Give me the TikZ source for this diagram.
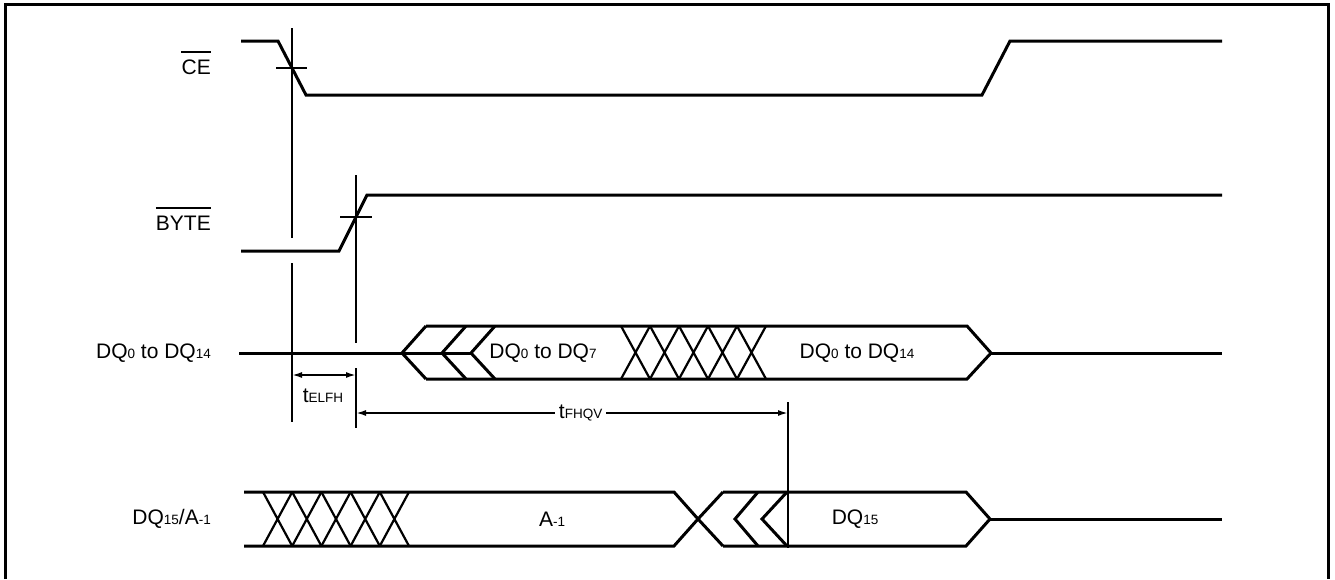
\documentclass[tikz,border=0pt]{standalone}
\usepackage{fontspec}
\setmainfont{Liberation Sans}
\usetikzlibrary{positioning, arrows.meta}
\tikzset{ sig/.style={line width=3pt, line join=miter},
          guide/.style={line width=1.8pt},
          xline/.style={line width=2.2pt},
          lbl/.style={inner sep=0pt, font=\fontsize{21}{22}\selectfont},
          dimarrow/.style={line width=1.8pt,
            {Latex[length=10pt,width=6pt]}-{Latex[length=10pt,width=6pt]}}}
\newcommand{\sm}[1]{{\fontsize{13.5}{14}\selectfont #1}}
\newcommand{\barlbl}[1]{\draw[line width=1.5pt]
  ([yshift=7.5pt]#1.north west) -- ([yshift=7.5pt]#1.north east);}

\begin{document}
\begin{tikzpicture}[x=1pt,y=-1pt]
\useasboundingbox (0,0) rectangle (1335,579);
\draw[line width=3pt] (5,579) -- (5,4) -- (1328,4) -- (1328,579);

% signal names
\node[lbl, anchor=east] (ce) at (211,67) {CE};
\barlbl{ce}
\node[lbl, anchor=east] (byte) at (211,223) {BYTE};
\barlbl{byte}
\node[lbl, anchor=east] (dqlo) at (211,353) {DQ\sm{0} to DQ\sm{14}};
\node[lbl, anchor=east] (dqhi) at (211,519) {DQ\sm{15}/A\sm{-1}};

% CE and BYTE
\draw[sig] (241,41) -- (278,41) -- (306,95) -- (982,95) -- (1010,41) -- (1222,41);
\draw[sig] (241,251) -- (339,251) -- (367,195) -- (1222,195);

% reference lines
\coordinate (e1) at (292,375);
\coordinate (f1) at (356,375);
\coordinate (f2) at (356,413);
\coordinate (v2) at (788,413);
\draw[guide] (292,28) -- (292,238) (292,263) -- (292,422);
\draw[guide] (356,175) -- (356,343) (356,368) -- (356,428);
\draw[guide] (788,402) -- (788,548);
\draw[guide] (276,68) -- (307,68);
\draw[guide] (340,217) -- (372,217);

% DQ0 to DQ14
\draw[sig] (239,353) -- (471,353);
\foreach \v in {402,442,471} %chevrons
  \draw[sig] (\v+24,326) -- (\v,353) -- (\v+24,379);
\draw[sig] (426,326) -- (967,326) -- (991,353) -- (967,379) -- (426,379);
\draw[sig] (991,353) -- (1222,353);
\foreach \i in {0,...,4} %crossings
  \draw[xline] (621+29*\i,326) -- (650+29*\i,379)
               (621+29*\i,379) -- (650+29*\i,326);
\node[lbl] (lo7) at (543,353) {DQ\sm{0} to DQ\sm{7}};
\node[lbl] (lo14) at (857,353) {DQ\sm{0} to DQ\sm{14}};

% DQ15/A-1
\draw[sig] (244,492) -- (674,492) -- (698,519) -- (674,546) -- (244,546);
\foreach \i in {0,...,4} %crossings
  \draw[xline] (263+29.2*\i,492) -- (292.2+29.2*\i,546)
               (263+29.2*\i,546) -- (292.2+29.2*\i,492);
\draw[sig] (723,492) -- (698,519) -- (723,546);
\draw[sig] (723,492) -- (966,492) -- (990,519) -- (966,546) -- (723,546);
\draw[sig] (990,519) -- (1222,519);
\foreach \v/\w in {735/758,762/787} %chevrons
  \draw[sig] (\w,492) -- (\v,519) -- (\w,546);
\node[lbl] (am1) at (552,519) {A\sm{-1}};
\node[lbl] (dq15) at (855,519) {DQ\sm{15}};

% timings
\draw[dimarrow] (e1) -- (f1);
\node[lbl] (telfh) at (323,396) {t\sm{ELFH}};
\draw[dimarrow] (f2) -- (v2)
  node[pos=0.52, fill=white, inner xsep=4pt, inner ysep=2pt,
       font=\fontsize{21}{22}\selectfont] (tfhqv) {t\sm{FHQV}};
\end{tikzpicture}
\end{document}
